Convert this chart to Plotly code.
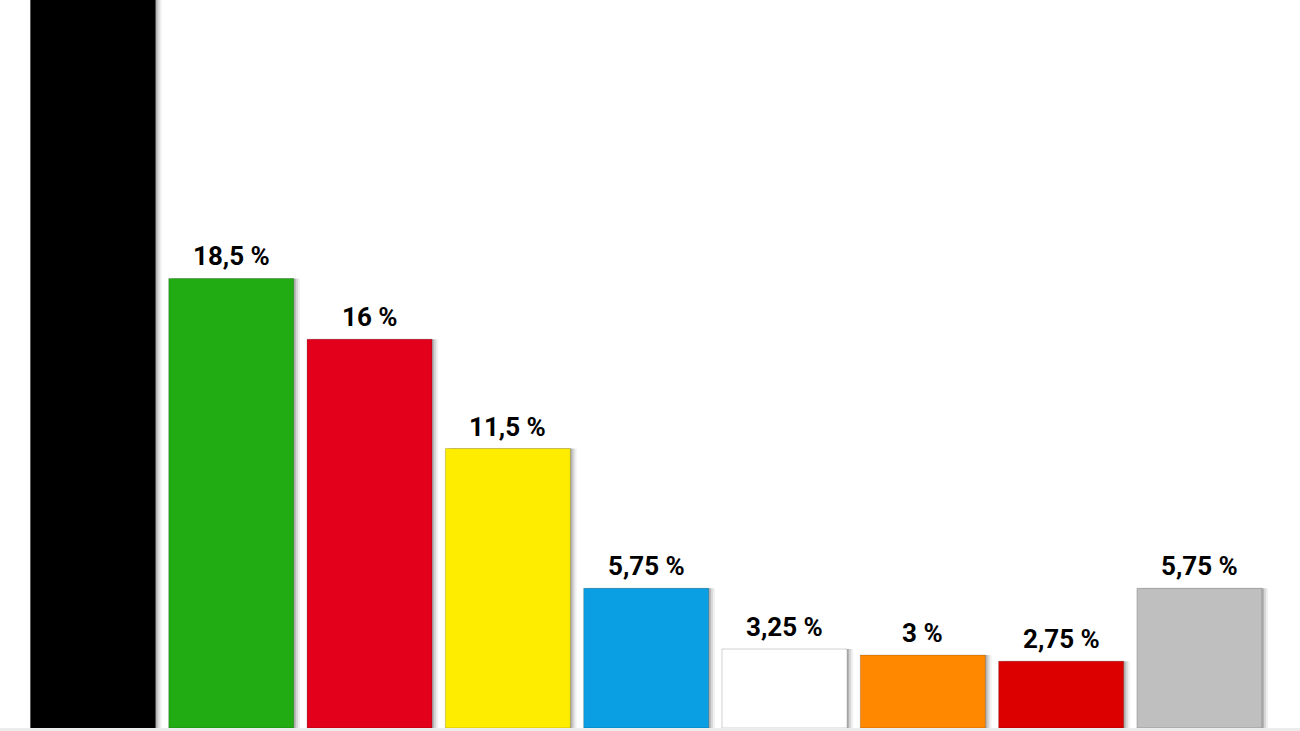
import plotly.graph_objects as go

# Umfragewerte (Balken von links nach rechts)
parties = ["CDU", "Grüne", "SPD", "FDP", "Linke", "Freie Wähler", "Piraten", "Tierschutz", "Sonstige"]
values = [32, 18.5, 16, 11.5, 5.75, 3.25, 3, 2.75, 5.75]
# Beschriftung des ersten Balkens liegt außerhalb des Bildes
labels = ["", "18,5 %", "16 %", "11,5 %", "5,75 %", "3,25 %", "3 %", "2,75 %", "5,75 %"]
colors = ["#000000", "#21ac14", "#e2001a", "#ffed00", "#0a9fe3",
          "#ffffff", "#ff8800", "#dc0000", "#bfbfbf"]

bar_w = 0.904
xs = list(range(len(parties)))

fig = go.Figure()

# weicher Schatten rechts neben den Balken
for off, alpha in [(0.045, 0.06), (0.03, 0.10), (0.015, 0.16)]:
    fig.add_trace(go.Bar(
        x=xs, y=values,
        width=bar_w, offset=-bar_w / 2 + off,
        marker=dict(color="rgba(0,0,0,%s)" % alpha, line=dict(width=0)),
        hoverinfo="skip", showlegend=False,
    ))

fig.add_trace(go.Bar(
    x=xs, y=values,
    width=bar_w, offset=-bar_w / 2,
    marker=dict(color=colors, line=dict(width=1, color="rgba(0,0,0,0.18)")),
    hovertext=parties, showlegend=False,
))

for x, v, lab in zip(xs, values, labels):
    if lab:
        fig.add_annotation(x=x, y=v, text=lab, showarrow=False,
                           yanchor="bottom", yshift=5,
                           font=dict(family="Roboto", size=26, color="#000000", weight="bold"))

fig.update_layout(
    width=1300, height=731,
    barmode="overlay",
    margin=dict(l=0, r=0, t=0, b=3),
    paper_bgcolor="#ececec",
    plot_bgcolor="#ffffff",
)
fig.update_xaxes(range=[-0.672, 8.727], showticklabels=False, showgrid=False,
                 zeroline=False, showline=False, ticks="")
fig.update_yaxes(range=[0, 29.96], showticklabels=False, showgrid=False,
                 zeroline=False, showline=False, ticks="")

# Seitenrand des Browsers entfernen
fig.write_html("out.html", config={"displayModeBar": False},
               post_script="document.body.style.margin='0';document.body.style.overflow='hidden';")
